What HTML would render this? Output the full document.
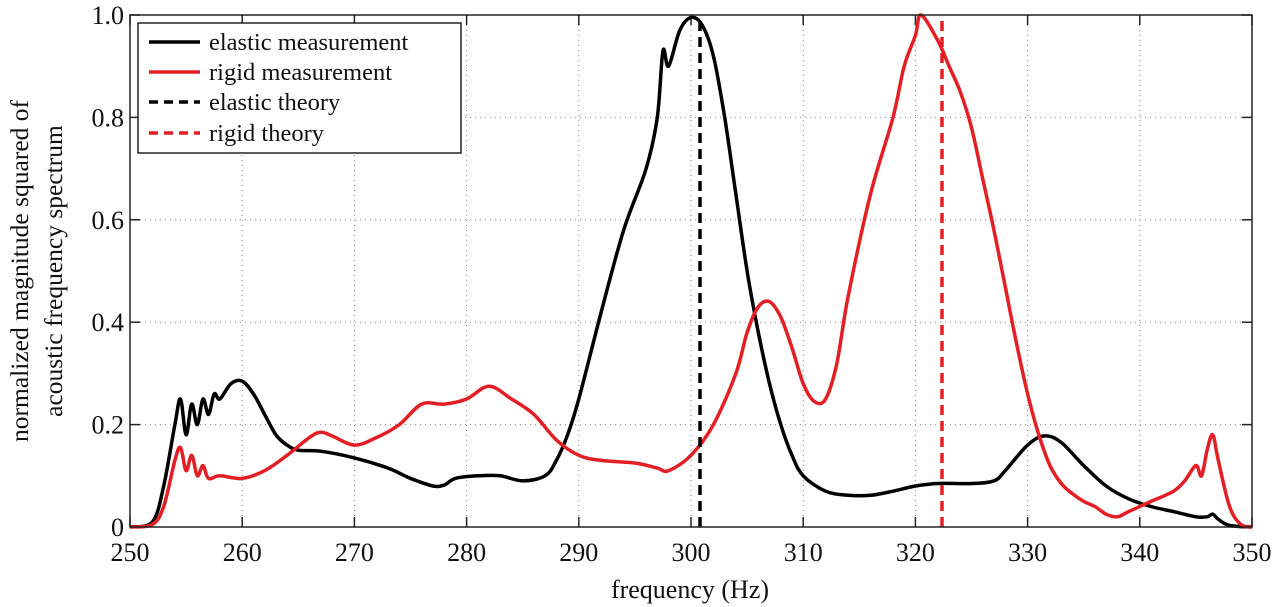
<!DOCTYPE html>
<html><head><meta charset="utf-8"><style>
body{margin:0;background:#fff;}
svg{display:block;font-family:"Liberation Serif",serif;}
</style></head><body>
<svg id="s" width="1280" height="607" xmlns="http://www.w3.org/2000/svg">
<g id="grid" stroke="#888" stroke-width="1" stroke-dasharray="1,4"></g>
<g id="ticks" stroke="#222" stroke-width="1.5"></g>
<path id="el" fill="none" stroke="#000" stroke-width="3.5" stroke-linejoin="round"/>
<path id="rg" fill="none" stroke="#e31e24" stroke-width="3.5" stroke-linejoin="round"/>
<line x1="700" y1="527" x2="700" y2="17" stroke="#000" stroke-width="3.5" stroke-dasharray="10,6"/>
<line x1="942" y1="527" x2="942" y2="17" stroke="#e31e24" stroke-width="3.5" stroke-dasharray="10,6"/>
<rect x="130" y="15" width="1122" height="512" fill="none" stroke="#222" stroke-width="1.5"/>
<g id="lab" font-size="26" fill="#111"></g>
<rect x="138" y="23" width="323" height="130" fill="#fff" stroke="#222" stroke-width="1.5"/>
<g stroke-width="3.5">
<line x1="149" y1="42" x2="200" y2="42" stroke="#000"/>
<line x1="149" y1="72" x2="200" y2="72" stroke="#e31e24"/>
<line x1="149" y1="102" x2="200" y2="102" stroke="#000" stroke-dasharray="9,6"/>
<line x1="149" y1="133" x2="200" y2="133" stroke="#e31e24" stroke-dasharray="9,6"/>
</g>
<g font-size="24.5" fill="#111">
<text x="209" y="50">elastic measurement</text>
<text x="209" y="80">rigid measurement</text>
<text x="209" y="110">elastic theory</text>
<text x="209" y="141">rigid theory</text>
</g>
<text x="690" y="598" font-size="26" text-anchor="middle" fill="#111">frequency (Hz)</text>
<text transform="translate(28,271) rotate(-90)" font-size="25.5" text-anchor="middle" fill="#111">normalized magnitude squared of</text>
<text transform="translate(62,271) rotate(-90)" font-size="25.5" text-anchor="middle" fill="#111">acoustic frequency spectrum</text>
</svg>
<script>
var X=f=>130+(f-250)*11.22, Y=v=>527-v*512;
var ns="http://www.w3.org/2000/svg";
function el(p,t,a){var e=document.createElementNS(ns,t);for(var k in a)e.setAttribute(k,a[k]);document.getElementById(p).appendChild(e);return e;}
for(var f=260;f<350;f+=10){el("grid","line",{x1:X(f),x2:X(f),y1:15,y2:527});}
for(var v=0.2;v<0.99;v+=0.2){el("grid","line",{x1:130,x2:1252,y1:Y(v),y2:Y(v)});}
for(var f=250;f<=350;f+=10){el("ticks","line",{x1:X(f),x2:X(f),y1:527,y2:517});el("ticks","line",{x1:X(f),x2:X(f),y1:15,y2:25});
 var t=el("lab","text",{x:X(f),y:561,"text-anchor":"middle"});t.textContent=f;}
["0","0.2","0.4","0.6","0.8","1.0"].forEach((s,i)=>{var y=Y(i*0.2);el("ticks","line",{x1:130,x2:140,y1:y,y2:y});el("ticks","line",{x1:1252,x2:1242,y1:y,y2:y});
 var t=el("lab","text",{x:124,y:y+9,"text-anchor":"end"});t.textContent=s;});
var E=[[250,0],[252,0.01],[253,0.08],[254,0.2],[254.5,0.25],[255,0.18],[255.5,0.24],[256,0.2],[256.5,0.25],[257,0.22],[257.5,0.26],[258,0.25],[259,0.28],[260,0.285],[261,0.26],[262,0.22],[263,0.18],[264,0.16],[265,0.15],[267,0.148],[270,0.135],[273,0.115],[275,0.095],[277,0.08],[278,0.082],[279,0.095],[281,0.1],[283,0.1],[285,0.09],[287,0.1],[288,0.13],[289,0.18],[290,0.25],[292,0.42],[294,0.58],[296,0.7],[297,0.8],[297.5,0.93],[298,0.9],[299,0.97],[300,0.995],[301,0.98],[302,0.92],[303,0.8],[304,0.65],[305,0.5],[306,0.38],[307,0.28],[308,0.2],[309,0.14],[310,0.1],[312,0.07],[314,0.062],[316,0.062],[318,0.07],[320,0.08],[322,0.085],[325,0.085],[327,0.09],[328,0.11],[330,0.16],[331.5,0.178],[333,0.165],[335,0.12],[337,0.08],[339,0.055],[341,0.04],[343,0.03],[345,0.02],[346,0.02],[346.5,0.025],[347,0.015],[348,0.003],[350,0]];
var R=[[250,0],[252,0.005],[253,0.04],[254,0.13],[254.5,0.155],[255,0.11],[255.5,0.14],[256,0.1],[256.5,0.12],[257,0.095],[258,0.1],[260,0.095],[262,0.11],[264,0.14],[266,0.175],[267,0.185],[268,0.178],[270,0.16],[272,0.175],[274,0.2],[276,0.24],[278,0.24],[280,0.25],[282,0.275],[284,0.25],[286,0.22],[288,0.17],[290,0.14],[292,0.13],[295,0.125],[297,0.115],[298,0.11],[300,0.14],[302,0.2],[304,0.3],[305,0.38],[306,0.43],[307,0.44],[308,0.41],[309,0.35],[310,0.28],[311,0.245],[312,0.25],[313,0.32],[314,0.45],[316,0.65],[318,0.8],[319,0.9],[320,0.96],[320.5,1.0],[322,0.95],[323,0.9],[324,0.85],[325,0.78],[326,0.68],[327,0.58],[328,0.47],[329,0.36],[330,0.26],[331,0.18],[332,0.12],[333,0.085],[334,0.065],[335,0.05],[336,0.04],[337,0.025],[338,0.02],[339,0.03],[341,0.05],[343,0.07],[344,0.09],[345,0.12],[345.5,0.1],[346,0.15],[346.5,0.18],[347,0.13],[348,0.04],[349,0.005],[350,0]];
function d(a){var p=a.map(q=>[X(q[0]),Y(q[1])]);var s="M"+p[0][0].toFixed(1)+","+p[0][1].toFixed(1);
 for(var i=0;i<p.length-1;i++){var p0=p[Math.max(0,i-1)],p1=p[i],p2=p[i+1],p3=p[Math.min(p.length-1,i+2)];
  var c1=[p1[0]+(p2[0]-p0[0])/6,p1[1]+(p2[1]-p0[1])/6],c2=[p2[0]-(p3[0]-p1[0])/6,p2[1]-(p3[1]-p1[1])/6];
  s+=" C"+c1.map(v=>v.toFixed(1))+" "+c2.map(v=>v.toFixed(1))+" "+p2.map(v=>v.toFixed(1));}
 return s;}
document.getElementById("el").setAttribute("d",d(E));
document.getElementById("rg").setAttribute("d",d(R));
</script>
</body></html>
